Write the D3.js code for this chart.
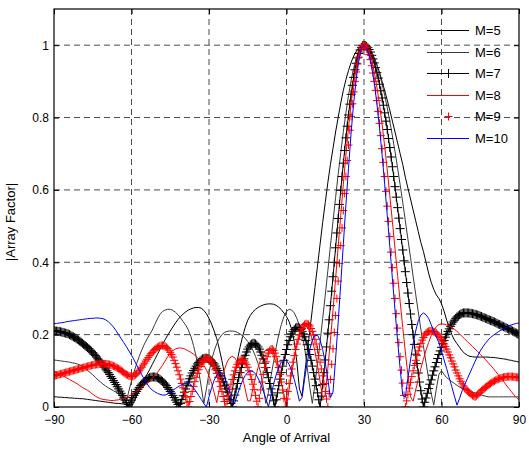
<!DOCTYPE html>
<html>
<head>
<meta charset="utf-8">
<script src="https://cdn.jsdelivr.net/npm/d3@7"></script>
<style>
  body { margin: 0; background: #fff; }
  svg { display: block; }
  text { font-family: Arial, "Liberation Sans", sans-serif; fill: #000; }
</style>
</head>
<body>
<svg id="chart" width="529" height="450"></svg>
<script>
// Sample angles (degrees): 1-degree grid for the plain lines,
// half-degree grid for the two marked series
const angles = d3.range(-90, 91, 1);
const anglesFine = d3.range(-90, 90.25, 0.5);

const xTicks = [-90, -60, -30, 0, 30, 60, 90];
const yTicks = [0, 0.2, 0.4, 0.6, 0.8, 1];
const seriesNames = ["M=5", "M=6", "M=7", "M=8", "M=9", "M=10"];

// |Array Factor| for each array size
const m5 = [
 0.028,0.028,0.027,0.027,0.026,0.026,0.025,0.025,0.024,0.024,
 0.023,0.023,0.022,0.021,0.020,0.019,0.018,0.017,0.016,0.015,
 0.014,0.013,0.012,0.011,0.010,0.010,0.009,0.008,0.006,0.004,
 0.002,0.015,0.030,0.046,0.061,0.076,0.090,0.103,0.117,0.131,
 0.145,0.159,0.173,0.186,0.198,0.210,0.221,0.232,0.242,0.250,
 0.257,0.263,0.268,0.271,0.274,0.275,0.275,0.273,0.267,0.258,
 0.245,0.229,0.210,0.189,0.160,0.128,0.090,0.050,0.010,0.045,
 0.090,0.130,0.165,0.195,0.220,0.240,0.253,0.263,0.270,0.275,
 0.279,0.282,0.284,0.285,0.285,0.284,0.281,0.276,0.269,0.260,
 0.250,0.236,0.215,0.180,0.125,0.050,0.030,0.090,0.150,0.210,
 0.270,0.330,0.390,0.450,0.510,0.565,0.620,0.670,0.715,0.760,
 0.800,0.840,0.875,0.905,0.930,0.952,0.970,0.983,0.992,0.998,
 1.000,0.998,0.990,0.978,0.965,0.946,0.925,0.900,0.875,0.848,
 0.820,0.790,0.760,0.730,0.700,0.670,0.635,0.605,0.575,0.545,
 0.515,0.485,0.455,0.430,0.400,0.370,0.345,0.325,0.310,0.300,
 0.285,0.265,0.240,0.220,0.200,0.185,0.175,0.165,0.155,0.148,
 0.143,0.140,0.139,0.138,0.138,0.138,0.138,0.138,0.138,0.137,
 0.137,0.136,0.135,0.134,0.133,0.132,0.130,0.129,0.127,0.126,
 0.124];

const m6 = [
 0.130,0.129,0.128,0.127,0.126,0.125,0.124,0.122,0.121,0.119,
 0.116,0.112,0.107,0.101,0.095,0.089,0.082,0.075,0.069,0.063,
 0.058,0.053,0.049,0.045,0.041,0.036,0.025,0.010,0.015,0.045,
 0.072,0.097,0.120,0.140,0.158,0.174,0.188,0.200,0.212,0.228,
 0.243,0.256,0.264,0.268,0.270,0.270,0.267,0.262,0.255,0.246,
 0.236,0.226,0.213,0.195,0.170,0.140,0.100,0.055,0.010,0.050,
 0.095,0.130,0.155,0.175,0.190,0.200,0.206,0.209,0.210,0.210,
 0.209,0.206,0.202,0.197,0.190,0.181,0.170,0.157,0.140,0.120,
 0.095,0.055,0.010,0.040,0.085,0.125,0.165,0.200,0.228,0.250,
 0.264,0.270,0.268,0.260,0.245,0.225,0.200,0.165,0.110,0.055,
 0.010,0.062,0.120,0.180,0.244,0.309,0.377,0.445,0.513,0.579,
 0.643,0.703,0.761,0.813,0.861,0.902,0.936,0.964,0.984,0.996,
 1.000,0.998,0.991,0.980,0.964,0.944,0.920,0.893,0.862,0.827,
 0.789,0.749,0.706,0.661,0.614,0.565,0.515,0.464,0.413,0.362,
 0.312,0.263,0.215,0.168,0.123,0.079,0.038,0.005,0.050,0.090,
 0.100,0.090,0.081,0.076,0.070,0.065,0.060,0.055,0.052,0.049,
 0.046,0.043,0.041,0.039,0.036,0.034,0.032,0.030,0.028,0.028,
 0.028,0.028,0.028,0.028,0.028,0.028,0.028,0.028,0.028,0.028,
 0.028];

// M=7 on the half-degree grid
const m7 = [
 0.210,0.210,0.210,0.209,0.209,0.208,0.207,0.206,0.205,0.204,0.203,0.202,0.200,0.198,0.196,0.194,0.192,0.190,0.187,0.185,
 0.182,0.179,0.176,0.173,0.170,0.167,0.164,0.161,0.157,0.154,0.150,0.146,0.142,0.138,0.133,0.129,0.124,0.120,0.115,0.110,
 0.105,0.100,0.095,0.090,0.084,0.079,0.073,0.068,0.062,0.056,0.050,0.044,0.038,0.032,0.025,0.019,0.012,0.000,0.007,0.013,
 0.019,0.026,0.032,0.038,0.043,0.049,0.054,0.059,0.063,0.067,0.071,0.074,0.077,0.079,0.081,0.082,0.083,0.083,0.083,0.082,
 0.081,0.079,0.077,0.074,0.071,0.067,0.063,0.059,0.054,0.049,0.043,0.038,0.032,0.026,0.019,0.013,0.007,0.000,0.010,0.021,
 0.031,0.041,0.050,0.060,0.069,0.078,0.086,0.094,0.101,0.107,0.113,0.119,0.123,0.127,0.130,0.133,0.134,0.135,0.135,0.134,
 0.133,0.130,0.127,0.123,0.119,0.113,0.107,0.101,0.094,0.086,0.078,0.069,0.060,0.050,0.041,0.031,0.021,0.010,0.000,0.017,
 0.033,0.050,0.065,0.081,0.095,0.109,0.121,0.133,0.143,0.152,0.160,0.166,0.171,0.174,0.176,0.176,0.174,0.171,0.166,0.160,
 0.152,0.143,0.133,0.121,0.109,0.095,0.081,0.065,0.050,0.033,0.017,0.000,0.020,0.039,0.059,0.077,0.095,0.113,0.129,0.145,
 0.159,0.172,0.184,0.194,0.202,0.209,0.214,0.218,0.220,0.220,0.218,0.214,0.209,0.202,0.194,0.184,0.172,0.159,0.145,0.129,
 0.113,0.095,0.077,0.059,0.039,0.020,0.000,0.030,0.062,0.095,0.130,0.166,0.204,0.241,0.280,0.320,0.360,0.400,0.440,0.481,
 0.521,0.560,0.599,0.637,0.674,0.709,0.744,0.776,0.807,0.837,0.864,0.889,0.911,0.932,0.950,0.965,0.977,0.987,0.994,0.999,
 1.000,0.999,0.997,0.993,0.988,0.981,0.972,0.962,0.951,0.938,0.924,0.909,0.892,0.874,0.854,0.834,0.813,0.790,0.767,0.742,
 0.717,0.691,0.664,0.637,0.609,0.580,0.551,0.522,0.493,0.463,0.434,0.404,0.374,0.344,0.315,0.286,0.257,0.228,0.200,0.173,
 0.146,0.120,0.094,0.069,0.045,0.022,0.000,0.013,0.025,0.038,0.051,0.063,0.075,0.088,0.100,0.111,0.123,0.134,0.145,0.155,
 0.165,0.175,0.184,0.193,0.201,0.209,0.216,0.223,0.229,0.235,0.240,0.245,0.249,0.252,0.255,0.257,0.259,0.260,0.260,0.260,
 0.260,0.260,0.259,0.259,0.258,0.257,0.256,0.255,0.254,0.253,0.251,0.250,0.248,0.247,0.245,0.244,0.242,0.241,0.239,0.238,
 0.236,0.235,0.233,0.231,0.229,0.228,0.226,0.224,0.222,0.221,0.219,0.217,0.215,0.214,0.212,0.210,0.208,0.206,0.204,0.202,
 0.200];

const m8 = [
 0.100,0.096,0.092,0.088,0.084,0.080,0.076,0.072,0.068,0.064,
 0.059,0.054,0.050,0.046,0.041,0.035,0.030,0.026,0.023,0.021,
 0.020,0.019,0.018,0.018,0.019,0.020,0.022,0.024,0.027,0.030,
 0.034,0.039,0.044,0.049,0.055,0.060,0.066,0.072,0.079,0.087,
 0.095,0.105,0.115,0.127,0.139,0.149,0.156,0.160,0.163,0.163,
 0.162,0.159,0.155,0.151,0.146,0.140,0.133,0.125,0.115,0.103,
 0.087,0.066,0.040,0.012,0.050,0.079,0.104,0.124,0.136,0.140,
 0.136,0.124,0.104,0.079,0.050,0.017,0.017,0.051,0.082,0.109,
 0.132,0.148,0.158,0.160,0.154,0.141,0.122,0.098,0.068,0.035,
 0.000,0.048,0.094,0.136,0.171,0.199,0.217,0.225,0.222,0.209,
 0.186,0.154,0.115,0.071,0.024,0.032,0.106,0.184,0.268,0.354,
 0.443,0.530,0.616,0.697,0.771,0.838,0.894,0.939,0.973,0.993,
 1.000,0.995,0.981,0.958,0.925,0.884,0.836,0.781,0.721,0.655,
 0.584,0.512,0.438,0.364,0.291,0.220,0.152,0.088,0.028,0.016,
 0.047,0.077,0.106,0.132,0.157,0.178,0.197,0.212,0.222,0.228,
 0.230,0.229,0.227,0.224,0.220,0.215,0.209,0.202,0.195,0.188,
 0.181,0.174,0.167,0.160,0.153,0.146,0.139,0.131,0.123,0.115,
 0.107,0.098,0.089,0.080,0.071,0.061,0.052,0.043,0.034,0.026,
 0.020];

// M=9 on the half-degree grid
const m9 = [
 0.086,0.087,0.088,0.089,0.090,0.091,0.092,0.093,0.094,0.095,0.096,0.097,0.098,0.099,0.100,0.101,0.102,0.103,0.104,0.105,
 0.106,0.107,0.108,0.109,0.110,0.111,0.112,0.113,0.114,0.115,0.116,0.117,0.117,0.118,0.118,0.119,0.119,0.119,0.119,0.119,
 0.119,0.119,0.118,0.117,0.116,0.115,0.113,0.112,0.110,0.108,0.106,0.104,0.101,0.098,0.095,0.092,0.090,0.088,0.086,0.085,
 0.084,0.084,0.086,0.089,0.092,0.096,0.100,0.105,0.110,0.116,0.121,0.127,0.132,0.137,0.142,0.147,0.151,0.155,0.159,0.162,
 0.165,0.167,0.169,0.170,0.170,0.169,0.168,0.165,0.162,0.157,0.151,0.145,0.138,0.129,0.120,0.110,0.100,0.089,0.077,0.065,
 0.053,0.040,0.027,0.013,0.000,0.015,0.029,0.043,0.057,0.070,0.082,0.093,0.103,0.112,0.119,0.125,0.130,0.133,0.135,0.135,
 0.133,0.130,0.125,0.119,0.112,0.103,0.093,0.082,0.070,0.057,0.043,0.029,0.015,0.000,0.016,0.032,0.048,0.063,0.076,0.089,
 0.100,0.110,0.118,0.124,0.128,0.130,0.130,0.128,0.124,0.118,0.110,0.100,0.089,0.076,0.063,0.048,0.032,0.016,0.000,0.024,
 0.047,0.069,0.090,0.109,0.125,0.139,0.149,0.156,0.160,0.160,0.156,0.149,0.139,0.125,0.109,0.090,0.069,0.047,0.024,0.000,
 0.022,0.043,0.065,0.086,0.105,0.124,0.142,0.159,0.174,0.187,0.199,0.209,0.217,0.224,0.228,0.230,0.230,0.228,0.224,0.217,
 0.209,0.199,0.187,0.174,0.159,0.142,0.124,0.105,0.086,0.065,0.043,0.022,0.000,0.037,0.076,0.118,0.161,0.206,0.253,0.300,
 0.348,0.397,0.446,0.495,0.543,0.590,0.637,0.681,0.724,0.765,0.803,0.838,0.871,0.900,0.926,0.948,0.967,0.981,0.992,0.998,
 1.000,0.998,0.994,0.986,0.974,0.960,0.943,0.923,0.900,0.875,0.847,0.817,0.784,0.750,0.714,0.676,0.637,0.596,0.555,0.513,
 0.471,0.428,0.385,0.342,0.300,0.258,0.218,0.178,0.139,0.102,0.066,0.032,0.000,0.017,0.035,0.052,0.068,0.084,0.100,0.115,
 0.129,0.142,0.155,0.166,0.176,0.185,0.192,0.199,0.204,0.207,0.209,0.210,0.210,0.210,0.208,0.207,0.204,0.200,0.196,0.192,
 0.186,0.180,0.174,0.167,0.160,0.152,0.144,0.136,0.127,0.119,0.111,0.102,0.094,0.086,0.078,0.071,0.064,0.058,0.052,0.049,
 0.045,0.041,0.038,0.035,0.032,0.030,0.028,0.031,0.034,0.038,0.041,0.045,0.048,0.051,0.054,0.057,0.060,0.063,0.065,0.068,
 0.070,0.072,0.074,0.076,0.077,0.079,0.080,0.081,0.082,0.083,0.083,0.084,0.084,0.084,0.084,0.084,0.083,0.083,0.082,0.082,
 0.081];

const m10 = [
 0.230,0.231,0.232,0.233,0.234,0.236,0.237,0.238,0.239,0.240,
 0.241,0.242,0.243,0.244,0.245,0.245,0.246,0.246,0.245,0.244,
 0.241,0.236,0.229,0.221,0.211,0.200,0.189,0.178,0.167,0.155,
 0.143,0.130,0.116,0.102,0.089,0.076,0.064,0.054,0.047,0.042,
 0.038,0.035,0.033,0.033,0.036,0.041,0.046,0.051,0.056,0.060,
 0.063,0.065,0.066,0.062,0.053,0.043,0.032,0.021,0.010,0.000,
 0.028,0.053,0.074,0.088,0.095,0.093,0.082,0.065,0.041,0.014,
 0.012,0.034,0.055,0.073,0.087,0.096,0.100,0.098,0.092,0.080,
 0.064,0.045,0.023,0.000,0.032,0.063,0.089,0.110,0.124,0.130,
 0.128,0.118,0.100,0.076,0.048,0.016,0.026,0.077,0.122,0.159,
 0.185,0.198,0.198,0.185,0.159,0.122,0.077,0.026,0.041,0.133,
 0.234,0.341,0.450,0.559,0.660,0.757,0.840,0.907,0.958,0.990,
 1.000,0.993,0.973,0.939,0.894,0.838,0.771,0.697,0.616,0.530,
 0.443,0.354,0.268,0.184,0.106,0.032,0.027,0.080,0.130,0.174,
 0.210,0.238,0.254,0.260,0.255,0.245,0.228,0.210,0.193,0.178,
 0.155,0.130,0.106,0.080,0.056,0.030,0.005,0.024,0.045,0.062,
 0.078,0.094,0.110,0.126,0.141,0.155,0.166,0.176,0.185,0.192,
 0.198,0.203,0.208,0.212,0.216,0.220,0.224,0.227,0.229,0.231,
 0.232];

// Series table: values, their angle grid, and how each is stroked / marked
const series = [
  { name: seriesNames[0], values: m5,  grid: angles,     color: "#000000", line: true,  marker: null },
  { name: seriesNames[1], values: m6,  grid: angles,     color: "#3a3a3a", line: true,  marker: null },
  { name: seriesNames[2], values: m7,  grid: anglesFine, color: "#000000", line: true,  marker: 4.5 },
  { name: seriesNames[3], values: m8,  grid: angles,     color: "#ff0000", line: true,  marker: null },
  { name: seriesNames[4], values: m9,  grid: anglesFine, color: "#ff0000", line: false, marker: 4 },
  { name: seriesNames[5], values: m10, grid: angles,     color: "#0000ff", line: true,  marker: null }
];

const svg = d3.select("#chart");
const plot = { left: 54, right: 519, top: 9, bottom: 407 };

const x = d3.scaleLinear().domain([-90, 90]).range([plot.left, plot.right]);
const y = d3.scaleLinear().domain([0, 1.1]).range([plot.bottom, plot.top]);

svg.append("rect").attr("width", 529).attr("height", 450).attr("fill", "#fff");

// Dashed grid
const gridG = svg.append("g").attr("stroke", "#4a4a4a").attr("stroke-width", 1)
  .attr("stroke-dasharray", "6,4").attr("fill", "none");
xTicks.filter(t => t > -90 && t < 90).forEach(t => {
  gridG.append("line").attr("x1", x(t)).attr("x2", x(t))
    .attr("y1", plot.top).attr("y2", plot.bottom);
});
yTicks.filter(t => t > 0).forEach(t => {
  gridG.append("line").attr("x1", plot.left).attr("x2", plot.right)
    .attr("y1", y(t)).attr("y2", y(t));
});

// Curves
svg.append("clipPath").attr("id", "plotClip").append("rect")
  .attr("x", plot.left).attr("y", plot.top)
  .attr("width", plot.right - plot.left).attr("height", plot.bottom - plot.top);

const dataLayer = svg.append("g").attr("clip-path", "url(#plotClip)");
const plus = r => `M${-r},0H${r}M0,${-r}V${r}`;

series.forEach(s => {
  const lineGen = d3.line().x((d, i) => x(s.grid[i])).y(d => y(d));
  if (s.line) {
    dataLayer.append("path").datum(s.values)
      .attr("d", lineGen).attr("fill", "none")
      .attr("stroke", s.color).attr("stroke-width", 1)
      .attr("stroke-linejoin", "round");
  }
  if (s.marker) {
    dataLayer.append("g").selectAll("path").data(s.values).join("path")
      .attr("d", plus(s.marker))
      .attr("transform", (d, i) => `translate(${x(s.grid[i])},${y(d)})`)
      .attr("stroke", s.color).attr("stroke-width", 1).attr("fill", "none");
  }
});

// Axes with inward ticks on all four sides
const bottomAxis = d3.axisBottom(x).tickValues(xTicks).tickSize(-5).tickSizeOuter(0).tickPadding(8);
const leftAxis = d3.axisLeft(y).tickValues(yTicks).tickSize(-5).tickSizeOuter(0).tickPadding(5)
  .tickFormat(d => d3.format("~g")(d));
const topAxis = d3.axisTop(x).tickValues(xTicks).tickSize(-5).tickSizeOuter(0).tickFormat("");
const rightAxis = d3.axisRight(y).tickValues(yTicks).tickSize(-5).tickSizeOuter(0).tickFormat("");

function styleAxis(g) {
  g.select(".domain").remove();
  g.selectAll(".tick line").attr("stroke", "#000");
  g.selectAll(".tick text").attr("font-size", 12)
    .attr("font-family", 'Arial, "Liberation Sans", sans-serif').attr("fill", "#000");
}

svg.append("g").attr("transform", `translate(0,${plot.bottom})`).call(bottomAxis).call(styleAxis);
svg.append("g").attr("transform", `translate(${plot.left},0)`).call(leftAxis).call(styleAxis);
svg.append("g").attr("transform", `translate(0,${plot.top})`).call(topAxis).call(styleAxis);
svg.append("g").attr("transform", `translate(${plot.right},0)`).call(rightAxis).call(styleAxis);

// Frame
svg.append("rect")
  .attr("x", plot.left).attr("y", plot.top)
  .attr("width", plot.right - plot.left).attr("height", plot.bottom - plot.top)
  .attr("fill", "none").attr("stroke", "#000").attr("stroke-width", 1.2);

// Axis titles
svg.append("text").attr("x", (plot.left + plot.right) / 2).attr("y", 442)
  .attr("text-anchor", "middle").attr("font-size", 13).text("Angle of Arrival");
svg.append("text").attr("transform", "translate(15,222) rotate(-90)")
  .attr("text-anchor", "middle").attr("font-size", 13).text("|Array Factor|");

// Legend (no box), rows snapped to the pixel grid
const legend = svg.append("g");
const legendY0 = 30, legendStep = 21.5, legX1 = 427, legX2 = 469, legText = 475;
series.forEach((s, i) => {
  const ly = Math.round(legendY0 + i * legendStep) + 0.5;
  if (s.line) {
    legend.append("line").attr("x1", legX1).attr("x2", legX2)
      .attr("y1", ly).attr("y2", ly).attr("stroke", s.color).attr("stroke-width", 1);
  }
  if (s.marker) {
    legend.append("path").attr("d", plus(s.marker))
      .attr("transform", `translate(${(legX1 + legX2) / 2 + 0.5},${ly})`)
      .attr("stroke", s.color).attr("fill", "none");
  }
  legend.append("text").attr("x", legText).attr("y", ly).attr("dy", "0.35em")
    .attr("font-size", 13).text(s.name);
});
</script>
</body>
</html>
